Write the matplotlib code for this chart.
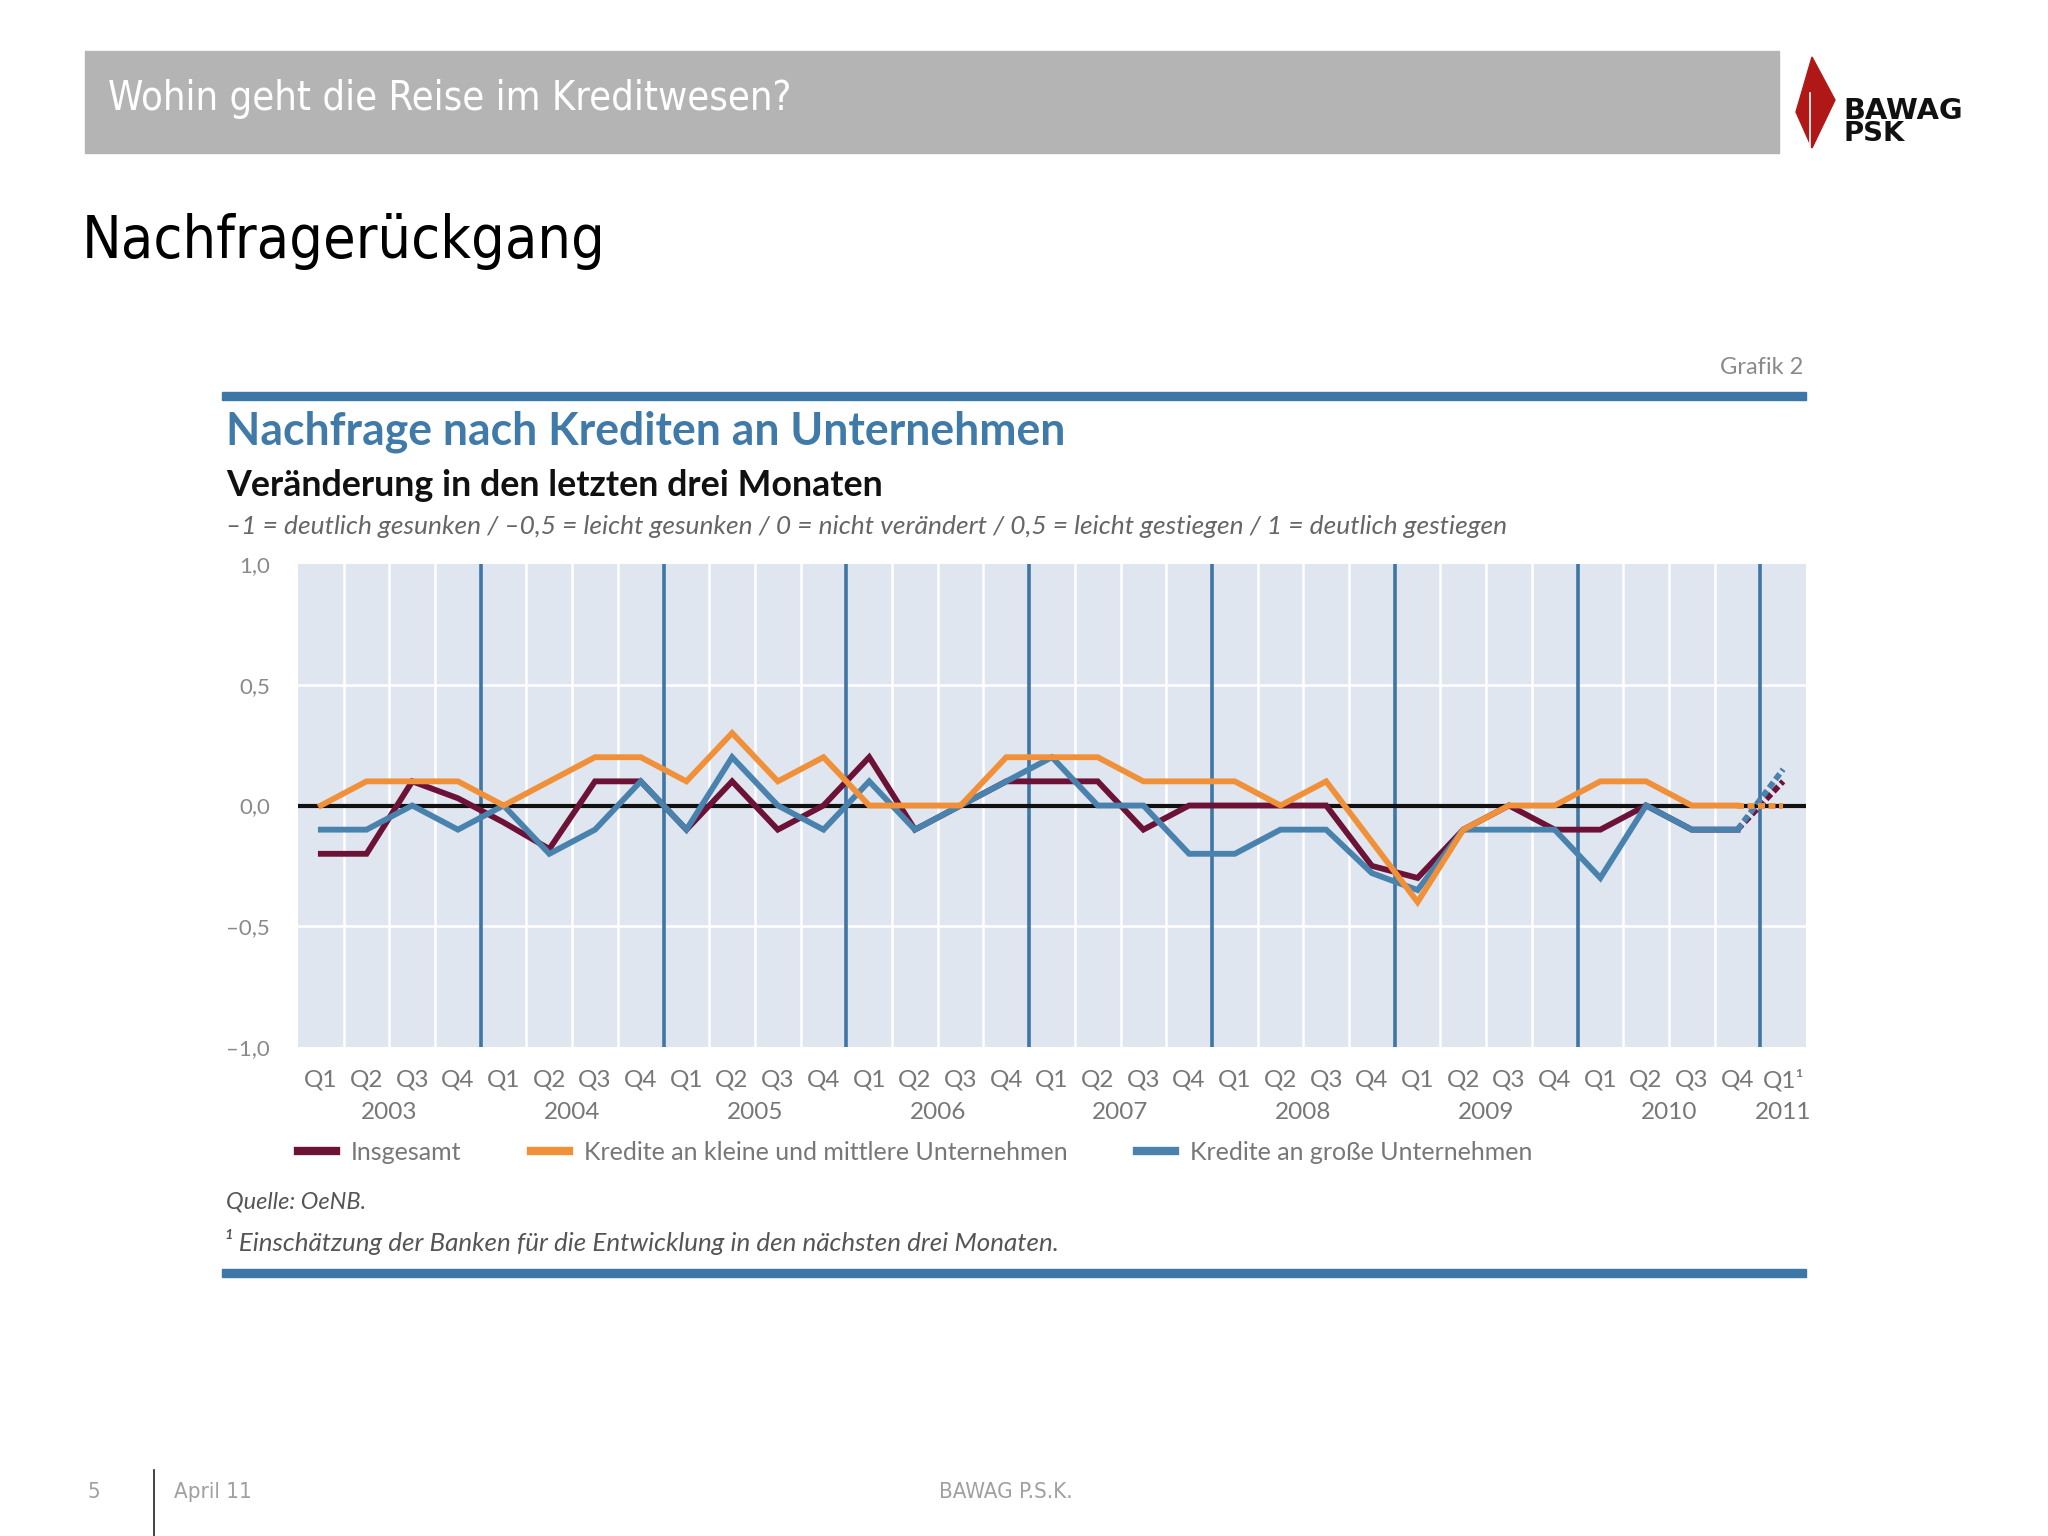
import numpy as np
import matplotlib
matplotlib.use("Agg")
import matplotlib.pyplot as plt
from matplotlib import font_manager
from matplotlib.lines import Line2D
from matplotlib.patches import Rectangle, Polygon

# --- data ---
quarters = ["Q1", "Q2", "Q3", "Q4"] * 8 + ["Q1¹"]
years = ["2003", "2004", "2005", "2006", "2007", "2008", "2009", "2010", "2011"]

insgesamt = [-0.2, -0.2, 0.1, 0.03,
             -0.07, -0.18, 0.1, 0.1,
             -0.1, 0.1, -0.1, 0.0,
             0.2, -0.1, 0.0, 0.1,
             0.1, 0.1, -0.1, 0.0,
             0.0, 0.0, 0.0, -0.25,
             -0.3, -0.1, 0.0, -0.1,
             -0.1, 0.0, -0.1, -0.1,
             0.1]
kmu = [0.0, 0.1, 0.1, 0.1,
       0.0, 0.1, 0.2, 0.2,
       0.1, 0.3, 0.1, 0.2,
       0.0, 0.0, 0.0, 0.2,
       0.2, 0.2, 0.1, 0.1,
       0.1, 0.0, 0.1, -0.15,
       -0.4, -0.1, 0.0, 0.0,
       0.1, 0.1, 0.0, 0.0,
       0.0]
gross = [-0.1, -0.1, 0.0, -0.1,
         0.0, -0.2, -0.1, 0.1,
         -0.1, 0.2, 0.0, -0.1,
         0.1, -0.1, 0.0, 0.1,
         0.2, 0.0, 0.0, -0.2,
         -0.2, -0.1, -0.1, -0.28,
         -0.35, -0.1, -0.1, -0.1,
         -0.3, 0.0, -0.1, -0.1,
         0.15]

series_names = ["Insgesamt", "Kredite an kleine und mittlere Unternehmen",
                "Kredite an große Unternehmen"]
y_ticks = [-1.0, -0.5, 0.0, 0.5, 1.0]
y_labels = ["–1,0", "–0,5", "0,0", "0,5", "1,0"]

# --- fonts ---
fonts = font_manager.fontManager.ttflist
names = {f.name for f in fonts}
narrow, narrow_stretch = "Liberation Sans", "normal"
if "Liberation Sans Narrow" in names:
    narrow = "Liberation Sans Narrow"
else:
    for f in fonts:
        if f.stretch in ("condensed", "semi-condensed") and f.name in ("DejaVu Sans", "Liberation Sans"):
            narrow, narrow_stretch = f.name, "condensed"
            break
cfont = "Lato" if "Lato" in names else "DejaVu Sans"

W, H = 2048, 1536
fig = plt.figure(figsize=(W / 100, H / 100), dpi=100)
fig.patch.set_facecolor("white")
renderer = fig.canvas.get_renderer()


def fx(x):
    return x / W


def fy(y):
    return 1 - y / H


def fit(t, width_px):
    bb = t.get_window_extent(renderer)
    t.set_fontsize(t.get_fontsize() * width_px / bb.width)


# header bar
fig.patches.append(Rectangle((fx(85), fy(153)), fx(1779) - fx(85), fy(51) - fy(153),
                             transform=fig.transFigure, color="#b4b4b4", zorder=0))
t = fig.text(fx(108), fy(99), "Wohin geht die Reise im Kreditwesen?", color="white",
             fontsize=30, family=narrow, stretch=narrow_stretch, va="center", ha="left")
fit(t, 683)

# logo
fig.patches.append(Polygon([(fx(1812), fy(57)), (fx(1835), fy(100)), (fx(1812), fy(148)),
                            (fx(1796), fy(112))], closed=True, transform=fig.transFigure,
                           color="#b01818", zorder=1))
fig.lines.append(Line2D([fx(1810), fx(1810)], [fy(93), fy(146)], transform=fig.transFigure,
                        color="white", lw=1.2, zorder=2))
t = fig.text(fx(1843), fy(111), "BAWAG", fontsize=15, weight="bold", family="DejaVu Sans",
             va="center", ha="left", color="#111111")
fit(t, 120)
fig.text(fx(1843), fy(134), "PSK", fontsize=t.get_fontsize() * 0.95, weight="bold",
         family="DejaVu Sans", va="center", ha="left", color="#111111")

# slide title
t = fig.text(fx(82), fy(242), "Nachfragerückgang", fontsize=54, family=narrow,
             stretch=narrow_stretch, va="center", ha="left", color="black")
fit(t, 524)

# chart frame
blue = "#3d77a8"
for yb in (396, 1273):
    fig.patches.append(Rectangle((fx(222), fy(yb + 4)), fx(1806) - fx(222), 8 / H,
                                 transform=fig.transFigure, color=blue, zorder=1))
fig.text(fx(1803), fy(368), "Grafik 2", fontsize=17, family=cfont, color="#8a8a8a",
         va="center", ha="right")
t = fig.text(fx(226), fy(432), "Nachfrage nach Krediten an Unternehmen", fontsize=27,
             weight="bold", family=cfont, color="#3f7aa9", va="center", ha="left")
fit(t, 838)
t = fig.text(fx(226), fy(485), "Veränderung in den letzten drei Monaten", fontsize=20,
             weight="bold", family=cfont, color="#111111", va="center", ha="left")
fit(t, 657)
t = fig.text(fx(226), fy(526),
             "–1 = deutlich gesunken / –0,5 = leicht gesunken / 0 = nicht verändert / "
             "0,5 = leicht gestiegen / 1 = deutlich gestiegen",
             fontsize=17, style="italic", family=cfont, color="#666666", va="center", ha="left")
fit(t, 1280)

# plot area
ax = fig.add_axes([fx(298), fy(1047), fx(1806) - fx(298), fy(564) - fy(1047)])
ax.set_facecolor("#e0e6ef")
x = np.arange(len(quarters))
ax.set_xlim(-0.5, len(quarters) - 0.5)
ax.set_ylim(-1.0, 1.0)
for s in ax.spines.values():
    s.set_visible(False)

for xb in np.arange(0.5, len(quarters) - 0.5):
    if (xb + 0.5) % 4 == 0:
        ax.axvline(xb, color="#3f76a3", lw=2.6, zorder=2)
    else:
        ax.axvline(xb, color="white", lw=1.8, zorder=1)
for yv in (-0.5, 0.5):
    ax.axhline(yv, color="white", lw=1.8, zorder=1)
ax.axhline(0, color="#111111", lw=3, zorder=3)

colors = ["#6c1237", "#4a82ae", "#f0913a"]
order = [0, 2, 1]
data = [insgesamt, kmu, gross]
for i, c in zip(order, colors):
    d = np.array(data[i])
    ax.plot(x[:-1], d[:-1], color=c, lw=4.2, solid_joinstyle="miter", zorder=4)
    ax.plot(x[-2:], d[-2:], color=c, lw=4.2, ls=(0, (1.2, 0.6)), zorder=4)

ax.set_yticks(y_ticks)
ax.set_yticklabels(y_labels)
ax.tick_params(axis="y", length=0, pad=20, labelsize=16, labelcolor="#8a8a8a")
for lab in ax.get_yticklabels():
    lab.set_family(cfont)
ax.set_xticks([])

tr = ax.get_xaxis_transform()
for xi, q in zip(x, quarters):
    ax.text(xi, -0.068, q, transform=tr, ha="center", va="center", fontsize=17.5,
            family=cfont, color="#777777")
year_pos = [1.5 + 4 * i for i in range(8)] + [32]
for xp, yl in zip(year_pos, years):
    ax.text(xp, -0.135, yl, transform=tr, ha="center", va="center", fontsize=17.5,
            family=cfont, color="#777777")

handles = [Line2D([], [], color=colors[0], lw=6),
           Line2D([], [], color=colors[2], lw=6),
           Line2D([], [], color=colors[1], lw=6)]
leg = ax.legend(handles, series_names, ncol=3, loc="center left",
                bbox_to_anchor=(0, -0.218), frameon=False,
                handlelength=1.5, handletextpad=0.6, columnspacing=2.8, borderaxespad=0,
                borderpad=0, prop={"family": cfont, "size": 18})
for txt in leg.get_texts():
    txt.set_color("#777777")

fig.text(fx(226), fy(1202), "Quelle: OeNB.", fontsize=17, style="italic", family=cfont,
         color="#555555", va="center", ha="left")
t = fig.text(fx(224), fy(1242),
             "¹ Einschätzung der Banken für die Entwicklung in den nächsten drei Monaten.",
             fontsize=17, style="italic", family=cfont, color="#555555", va="center", ha="left")
fit(t, 836)

# footer
fig.text(fx(94), fy(1492), "5", fontsize=16, family=narrow, stretch=narrow_stretch,
         color="#a0a0a0", va="center", ha="center")
fig.lines.append(Line2D([fx(154), fx(154)], [fy(1470), 0], transform=fig.transFigure,
                        color="#222222", lw=1.2))
fig.text(fx(174), fy(1492), "April 11", fontsize=16, family=narrow, stretch=narrow_stretch,
         color="#a0a0a0", va="center", ha="left")
fig.text(fx(1006), fy(1492), "BAWAG P.S.K.", fontsize=16, family=narrow,
         stretch=narrow_stretch, color="#a0a0a0", va="center", ha="center")

fig.savefig("out.png", dpi=100)
